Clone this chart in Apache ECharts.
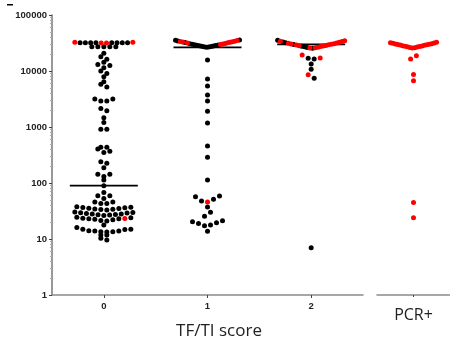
<!DOCTYPE html>
<html><head><meta charset="utf-8">
<script src="https://cdn.jsdelivr.net/npm/echarts/dist/echarts.min.js"></script>
<style>html,body{margin:0;padding:0;background:#fff}#c{width:450px;height:339px}</style>
</head><body><div id="c"></div>
<script>
// ---------- data ----------
const categories = ['0', '1', '2'];
const pcrLabel = 'PCR+';
const axisTitle = 'TF/TI score';
const yTickValues = [1, 10, 100, 1000, 10000, 100000];

const cat0Black = [9.6, 10.3, 11.8, 11.8,
  13.4, 13.5, 13.5, 13.9, 13.9, 14.0, 14.8, 15.0, 15.0, 16.0,
  17.8,
  21, 21.5, 22, 22.5, 23, 23, 23.5, 24, 24.5,
  26.3, 26.8, 27.2, 27.5, 28, 28, 28.5, 29, 29.3, 29.7, 30.2,
  33, 33.5, 34, 34.5, 35, 35.5, 36, 36.5, 37, 37.5,
  43, 43, 46, 46, 53, 59, 59, 68, 89, 113, 130, 143, 143, 188, 225, 240,
  350, 370, 405, 435, 435, 910, 910, 1200, 1470, 1960, 2150, 2900, 2900, 3160, 3160,
  5200, 5800, 6400, 7900, 9000, 10000, 11450, 12500, 13000, 14300, 16200, 18000, 20700,
  27000, 27000, 27000, 27000, 27000,
  32000, 32000, 32000, 32000, 32000, 32000, 32000, 32000];
const cat0Red = [23.3, 31500, 31500, 32500, 32500];

const cat1Black = [13.7, 17.3, 17.8, 19.0, 19.5, 20.4, 21.2, 25.5, 30, 37.3, 47.6, 51.4, 57, 58.5,
  113, 288, 456, 1180, 1910, 2910, 3730, 5400, 7200, 15700,
  26500, 26700, 27100, 27400, 27600, 28000, 28300, 28500, 28900, 29200, 29400, 30100, 30800,
  32200, 34500, 35300, 35700];
const cat1Red = [45.7, 29800, 30500, 31100, 31500, 31800, 32600, 32900, 33300, 33700, 34100, 34900];

const cat2Black = [7, 7400, 10700, 13300, 16300, 16900,
  25400, 26300, 27000, 27600, 29700, 32000, 33000, 35400];
const cat2Red = [8600, 17000, 19300,
  25700, 26000, 26600, 27300, 28000, 28300, 28600, 29000, 29300, 30000, 30400, 30800,
  31200, 31600, 32500, 33500, 34000, 34700];

const pcrRed = [24, 45, 6700, 8700, 16300, 18700,
  25700, 26000, 26300, 26700, 27000, 27300, 27700, 28000, 28300, 28700,
  29000, 29400, 29700, 30100, 30500, 30800, 31200, 31600, 32000, 32500];

const medians = [90, 26500, 30000];

// ---------- layout ----------
const G1 = {left: 52, top: 15, width: 311, height: 280};
const G2 = {left: 377, top: 15, width: 76, height: 280};
const Y_MIN_DEC = 0, Y_MAX_DEC = 5;
function ypx(v) { return G1.top + G1.height * (1 - (Math.log10(v) - Y_MIN_DEC) / (Y_MAX_DEC - Y_MIN_DEC)); }
const SPACING = 6;

const groups = [
  {grid: 0, cat: 0, black: cat0Black, red: cat0Red, W: 29, h: 4.5, g: 3, side: 1, ppu: G1.width / 3},
  {grid: 0, cat: 1, black: cat1Black, red: cat1Red, W: 32, h: 8, g: 4, side: -1, ppu: G1.width / 3},
  {grid: 0, cat: 2, black: cat2Black, red: cat2Red, W: 33.5, h: 9, g: 4, side: 1, ppu: G1.width / 3},
  {grid: 1, cat: 0, black: [], red: pcrRed, W: 24, h: 8, g: 4, side: -1, ppu: G2.width / 1}
];

function layout(grp) {
  const pts = grp.black.map(v => ({v, c: 'black'})).concat(grp.red.map(v => ({v, c: 'red'})));
  pts.sort((a, b) => (a.v - b.v) || (a.c < b.c ? -1 : 1));
  const rows = []; let row = null, y0 = 0, yPrev = 0;
  for (const p of pts) {
    const y = ypx(p.v);
    if (!row || (y0 - y) > grp.h || (yPrev - y) > grp.g) { row = []; rows.push(row); y0 = y; }
    row.push(p); yPrev = y;
  }
  rows.forEach(r => {
    const n = r.length;
    const s = n > 1 ? Math.min(SPACING, 2 * grp.W / (n - 1)) : 0;
    const pos = [];
    for (let i = 0; i < n; i++) pos.push((i - (n - 1) / 2) * s);
    pos.sort((a, b) => (Math.abs(a) - Math.abs(b)) || (grp.side > 0 ? b - a : a - b));
    r.forEach((p, i) => { p.x = grp.cat + pos[i] / grp.ppu; });
  });
  return pts;
}

const series = [];
// median lines
medians.forEach((m, i) => {
  const hw = 34 / (G1.width / 3);
  series.push({type: 'line', xAxisIndex: 0, yAxisIndex: 0, symbol: 'none', silent: true, z: 1,
    lineStyle: {color: '#000', width: 1.8}, data: [[i - hw, m], [i + hw, m]]});
});
groups.forEach(grp => {
  const pts = layout(grp);
  ['black', 'red'].forEach(col => {
    const d = pts.filter(p => p.c === col).map(p => [p.x, p.v]);
    if (!d.length) return;
    series.push({type: 'scatter', xAxisIndex: grp.grid, yAxisIndex: grp.grid, z: col === 'red' ? 3 : 2,
      symbol: 'circle', symbolSize: 5, itemStyle: {color: col === 'red' ? '#ff0000' : '#000000', opacity: 1},
      data: d});
  });
});

const axisGray = '#8a8a8a';
const option = {
  animation: false,
  backgroundColor: '#fff',
  grid: [
    {left: G1.left, top: G1.top, width: G1.width, height: G1.height},
    {left: G2.left, top: G2.top, width: G2.width, height: G2.height}
  ],
  xAxis: [
    {type: 'value', gridIndex: 0, min: -0.5, max: 2.5,
      axisLine: {show: true, onZero: false, lineStyle: {color: axisGray, width: 1.5}},
      axisTick: {show: true, customValues: [0, 1, 2], length: 3, lineStyle: {color: '#444'}},
      axisLabel: {customValues: [0, 1, 2], formatter: v => categories[Math.round(v)], fontWeight: 'bold',
        fontSize: 9.5, fontFamily: 'Liberation Sans, Arial, sans-serif', color: '#222', margin: 6},
      splitLine: {show: false}},
    {type: 'value', gridIndex: 1, min: -0.5, max: 0.5,
      axisLine: {show: true, onZero: false, lineStyle: {color: axisGray, width: 1.5}},
      axisTick: {show: true, customValues: [0], length: 2, lineStyle: {color: '#444'}},
      axisLabel: {customValues: [0], formatter: () => pcrLabel, fontSize: 16,
        fontFamily: 'Open Sans, sans-serif', color: '#222', margin: 12},
      splitLine: {show: false}}
  ],
  yAxis: [
    {type: 'log', logBase: 10, gridIndex: 0, min: yTickValues[0], max: yTickValues[yTickValues.length - 1],
      axisLine: {show: true, onZero: false, lineStyle: {color: '#777', width: 1.5}},
      axisTick: {show: true, length: 3, lineStyle: {color: '#444'}},
      minorTick: {show: true, splitNumber: 9, length: 2, lineStyle: {color: '#aaa'}},
      axisLabel: {formatter: v => String(Math.round(v)), fontWeight: 'bold', fontSize: 9.5,
        fontFamily: 'Liberation Sans, Arial, sans-serif', color: '#222', margin: 5},
      splitLine: {show: false}},
    {type: 'log', logBase: 10, gridIndex: 1, min: yTickValues[0], max: yTickValues[yTickValues.length - 1], show: false}
  ],
  graphic: [
    {type: 'rect', left: 7, top: 4, shape: {width: 6, height: 1.5}, style: {fill: '#000'}},
    {type: 'text', x: 219, y: 331, style: {text: axisTitle, fontSize: 17, fontFamily: 'Open Sans, sans-serif',
      fill: '#222', align: 'center', verticalAlign: 'middle'}}
  ],
  series
};
const chart = echarts.init(document.getElementById('c'), null, {renderer: 'canvas'});
chart.setOption(option);
</script></body></html>
